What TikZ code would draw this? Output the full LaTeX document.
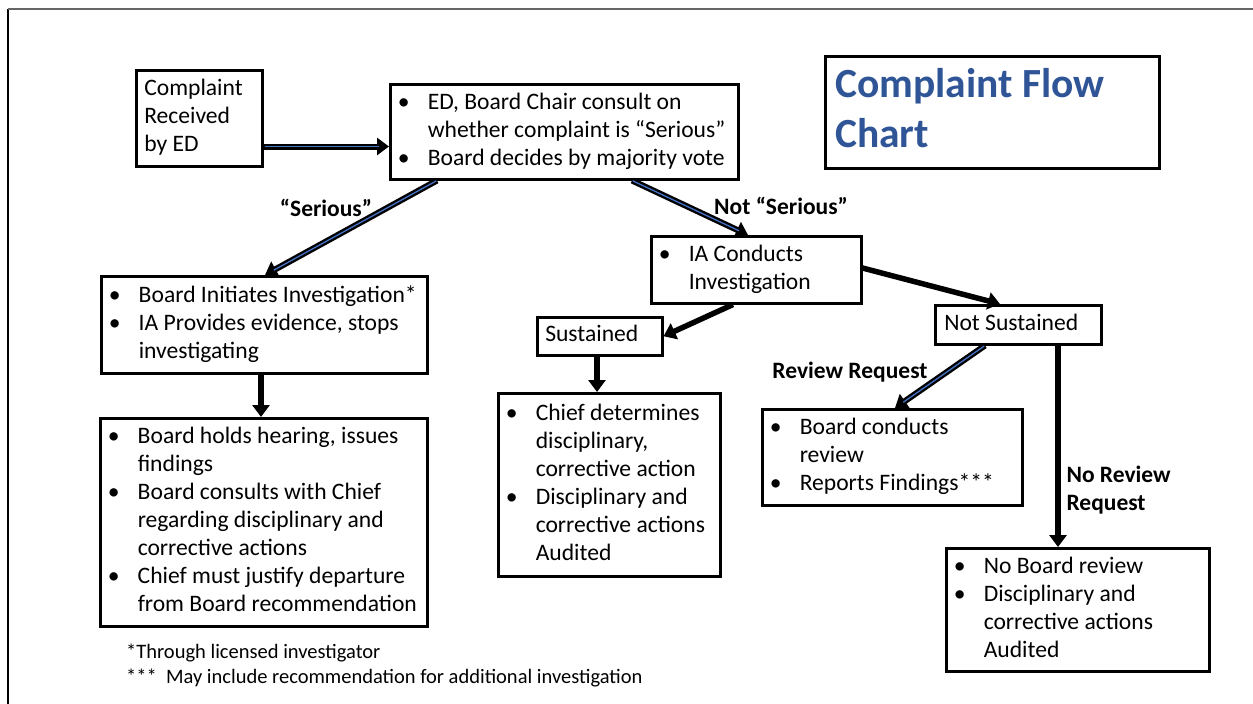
\documentclass[tikz,border=0pt]{standalone}
\usepackage{fontspec}
\setmainfont{Carlito}
\usetikzlibrary{arrows.meta,calc}

\definecolor{flowblue}{RGB}{68,114,196}
\definecolor{titleblue}{RGB}{47,85,151}

\newcommand{\bodyfont}{\fontsize{23.6}{28}\selectfont}
\newcommand{\bl}{\makebox[30pt][l]{•}}
\newcommand{\nb}{\hspace*{30pt}}
% text of a box: width, left padding, lines
\newcommand{\boxtext}[3][7.5pt]{\makebox[#2][l]{\hspace*{#1}\begin{tabular}{@{}l@{}}#3\end{tabular}}}

\begin{document}
\begin{tikzpicture}[x=1pt,y=-1pt,
	box/.style={draw, line width=2.5pt, anchor=north west, inner sep=0pt, font=\bodyfont},
	flowarrow/.style={line width=5.5pt, -{Triangle[length=12pt,width=17pt]}},
	dblarrow/.style={line width=6pt, -{Triangle[length=12pt,width=17pt]},
		postaction={draw=flowblue, line width=1.3pt, -, shorten >=10pt, shorten <=1pt}},
	lbl/.style={font=\fontsize{23.5}{28}\selectfont\bfseries}]
	\useasboundingbox (0,0) rectangle (1253,704);
	
	% Rahmen
	\draw[line width=1.3pt] (8,704) -- (8,9);
	\draw[line width=1.3pt, black!60] (8,9) -- (1253,9);
	
	% Kaesten
	\node[box, minimum width=126, minimum height=96] (recv) at (135,69)
		{\boxtext[8pt]{126pt}{Complaint\\Received\\by ED}};
	\node[box, minimum width=348, minimum height=95] (consult) at (389,83)
		{\boxtext{348pt}{\bl ED, Board Chair consult on\\\nb whether complaint is “Serious”\\\bl Board decides by majority vote}};
	\node[box, minimum width=334, minimum height=112, font=\fontsize{41.5}{50}\selectfont\bfseries, text=titleblue] (title) at (824,55)
		{\boxtext[10pt]{334pt}{Complaint Flow\\Chart}};
	\node[box, minimum width=326, minimum height=97] (board) at (100,275)
		{\boxtext{326pt}{\bl Board Initiates Investigation*\\\bl IA Provides evidence, stops\\\nb investigating}};
	\node[box, minimum width=327, minimum height=208] (hearing) at (99,417)
		{\boxtext{327pt}{\bl Board holds hearing, issues\\\nb findings\\\bl Board consults with Chief\\\nb regarding disciplinary and\\\nb corrective actions\\\bl Chief must justify departure\\\nb from Board recommendation}};
	\node[box, minimum width=210, minimum height=67] (ia) at (650,235)
		{\boxtext{210pt}{\bl IA Conducts\\\nb Investigation}};
	\node[box, minimum width=125, minimum height=38] (sust) at (536,316)
		{\boxtext[8pt]{125pt}{Sustained}};
	\node[box, minimum width=222, minimum height=183] (chief) at (497,392)
		{\boxtext{222pt}{\bl Chief determines\\\nb disciplinary,\\\nb corrective action\\\bl Disciplinary and\\\nb corrective actions\\\nb Audited}};
	\node[box, minimum width=166, minimum height=39] (notsust) at (934,304)
		{\boxtext[9pt]{166pt}{Not Sustained}};
	\node[box, minimum width=260, minimum height=96] (review) at (761,408)
		{\boxtext{260pt}{\bl Board conducts\\\nb review\\\bl Reports Findings***}};
	\node[box, minimum width=263, minimum height=123] (noboard) at (945,547)
		{\boxtext{263pt}{\bl No Board review\\\bl Disciplinary and\\\nb corrective actions\\\nb Audited}};
	
	% Pfeile
	\coordinate (a1) at ($(recv.south east)+(0,-21)$);
	\draw[dblarrow] (a1) -- (a1 -| consult.west);
	\draw[dblarrow] ($(consult.south west)+(48,0)$) -- ($(board.north west)+(165,0)$);
	\draw[dblarrow] ($(consult.south west)+(243,0)$) -- ($(ia.north west)+(98,0)$);
	\draw[flowarrow] ($(ia.south west)+(83,0)$) -- (sust.east);
	\draw[flowarrow] ($(ia.north east)+(0,33)$) -- ($(notsust.north west)+(66,0)$);
	\draw[dblarrow] ($(notsust.south west)+(51,0)$) -- ($(review.north west)+(134,0)$);
	\coordinate (a7) at ($(notsust.south west)+(124,0)$);
	\draw[flowarrow] (a7) -- (a7 |- noboard.north);
	\coordinate (a8) at ($(board.south west)+(161,0)$);
	\draw[flowarrow] (a8) -- (a8 |- hearing.north);
	\coordinate (a9) at ($(sust.south west)+(61,0)$);
	\draw[flowarrow] (a9) -- (a9 |- chief.north);
	
	% Beschriftungen
	\node[lbl] (lser) at (326,208) {“Serious”};
	\node[lbl] (lnot) at (781,206) {Not “Serious”};
	\node[lbl] (lrev) at (850,372) {Review Request};
	\node[lbl, anchor=west, align=left] (lnorev) at (1063,490) {No Review\\Request};
	
	% Fussnoten
	\node[anchor=west, inner sep=0pt, font=\fontsize{20.5}{24}\selectfont] (fn1) at (126,653) {*Through licensed investigator};
	\node[anchor=west, inner sep=0pt, font=\fontsize{20.5}{24}\selectfont] (fn2) at (126,678) {***~ May include recommendation for additional investigation};
\end{tikzpicture}
\end{document}
